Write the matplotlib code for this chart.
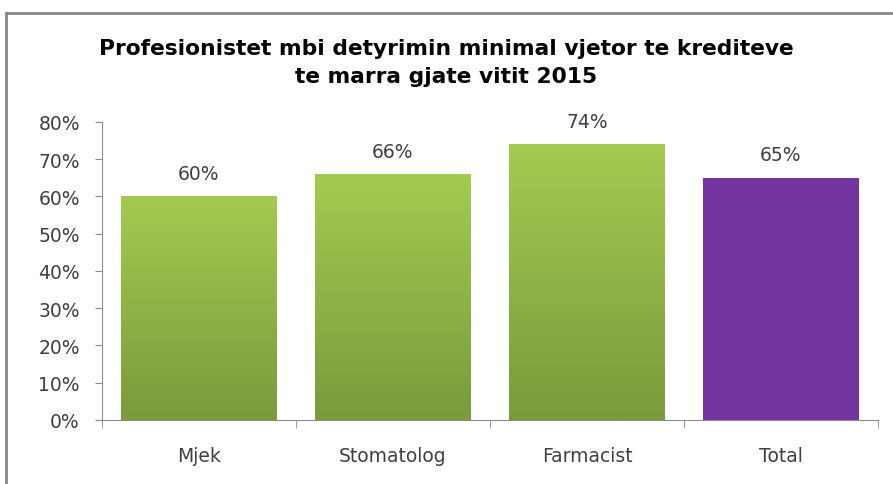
import numpy as np
import matplotlib.pyplot as plt
from matplotlib.colors import LinearSegmentedColormap
from matplotlib.patches import Rectangle
from matplotlib.lines import Line2D

categories = ['Mjek', 'Stomatolog', 'Farmacist', 'Total']
values = [60, 66, 74, 65]
labels = ['60%', '66%', '74%', '65%']
title = 'Profesionistet mbi detyrimin minimal vjetor te krediteve\nte marra gjate vitit 2015'

green_cmap = LinearSegmentedColormap.from_list('g', ['#7a9a3c', '#a5ca50'])
purple = '#7535a1'
axis_col = '#8c8c8c'
text_col = '#404040'

fig = plt.figure(figsize=(8.93, 4.85), dpi=100)
ax = fig.add_axes([0.1142, 0.132, 0.869, 0.6144])

x = np.arange(len(categories))
width = 0.8
bars = ax.bar(x, values, width=width, color='none', edgecolor='none', zorder=2)

grad = np.linspace(0, 1, 256).reshape(-1, 1)
for i, b in enumerate(bars):
    bx, by = b.get_x(), b.get_y()
    bw, bh = b.get_width(), b.get_height()
    if categories[i] == 'Total':
        ax.add_patch(Rectangle((bx, by), bw, bh, facecolor=purple, edgecolor='none', zorder=2))
    else:
        im = ax.imshow(grad, extent=[bx, bx + bw, by, by + bh], origin='lower',
                       cmap=green_cmap, aspect='auto', zorder=2)
        im.set_clip_path(b)
    ax.text(x[i], values[i] + 3.6, labels[i], ha='center', va='bottom',
            fontsize=13.5, color=text_col)

ax.set_xlim(-0.5, len(categories) - 0.5)
ax.set_ylim(0, 80)
ax.set_yticks(np.arange(0, 81, 10))
ax.set_yticklabels([f'{v}%' for v in range(0, 81, 10)], fontsize=13.5, color=text_col)
ax.set_xticks(x)
ax.set_xticklabels(categories, fontsize=13.5, color=text_col)
ax.tick_params(axis='x', length=0, pad=19)
ax.tick_params(axis='y', length=5, color=axis_col, pad=11)
ax.set_xticks(np.arange(-0.5, len(categories), 1), minor=True)
ax.tick_params(axis='x', which='minor', length=6, color=axis_col)

for s in ['top', 'right']:
    ax.spines[s].set_visible(False)
for s in ['left', 'bottom']:
    ax.spines[s].set_color(axis_col)

fig.text(0.5, 0.87, title, ha='center', va='center', fontsize=15.7,
         fontweight='bold', color='black', linespacing=1.55)

# outer frame: only top and left edges visible in the image
fig.lines.append(Line2D([0.0067, 1.0], [0.971, 0.971], transform=fig.transFigure,
                        color='#868686', linewidth=2))
fig.lines.append(Line2D([0.0067, 0.0067], [0.0, 0.971], transform=fig.transFigure,
                        color='#868686', linewidth=2))

fig.savefig('out.png', dpi=100)
